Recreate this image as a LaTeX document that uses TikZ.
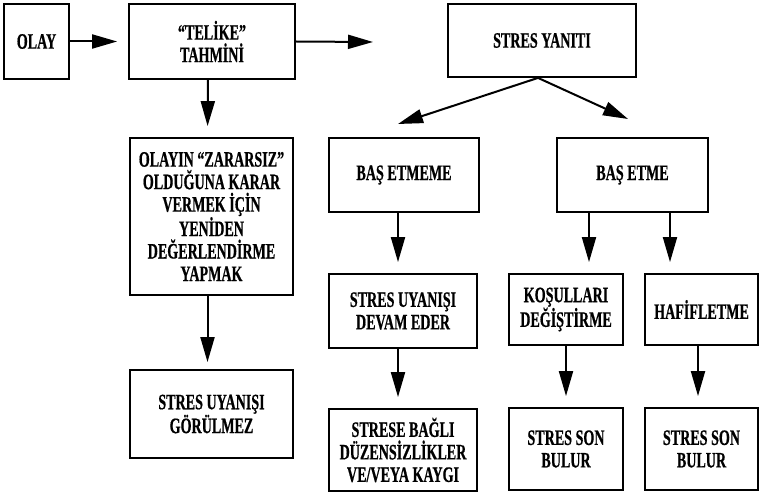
\documentclass[tikz,border=0pt]{standalone}
\usepackage{fontspec}
\setmainfont{Liberation Serif}[FakeStretch=0.64, BoldFeatures={FakeBold=0.6}]
\usetikzlibrary{arrows.meta, calc}

\begin{document}
\begin{tikzpicture}[x=1pt, y=-1pt, line width=2pt,
        >={Triangle[length=25pt, width=14pt]},
        box/.style={draw, line width=1.8pt, align=center, inner sep=2pt,
            font=\bfseries\fontsize{22}{22.5}\selectfont},
        arr/.style={->, line width=2pt, shorten >=11pt}]
        \useasboundingbox (0,0) rectangle (760,494);

        % Top row
        \node[box, minimum width=65pt, minimum height=75pt] (olay) at (36.5,41.5) {OLAY};
        \node[box, minimum width=166pt, minimum height=75pt] (telike) at (212,41.5) {“TELİKE”\\TAHMİNİ};
        \node[box, minimum width=188pt, minimum height=73pt] (yanit) at (542,40.5) {STRES YANITI};

        % Left column
        \node[box, minimum width=163pt, minimum height=157pt] (yeniden) at (211.5,216.5)
            {OLAYIN “ZARARSIZ”\\OLDUĞUNA KARAR\\VERMEK İÇİN\\YENİDEN\\DEĞERLENDİRME\\YAPMAK};
        \node[box, minimum width=163pt, minimum height=88pt] (gorulmez) at (211.5,414) {STRES UYANIŞI\\GÖRÜLMEZ};

        % Coping
        \node[box, minimum width=150pt, minimum height=74pt] (basetmeme) at (404,175) {BAŞ ETMEME};
        \node[box, minimum width=151pt, minimum height=74pt] (basetme) at (632.5,175) {BAŞ ETME};

        % Third row
        \node[box, minimum width=148pt, minimum height=74pt] (devam) at (403,311) {STRES UYANIŞI\\DEVAM EDER};
        \node[box, minimum width=114pt, minimum height=71pt] (kosul) at (566,309.5) {KOŞULLARI\\DEĞİŞTİRME};
        \node[box, minimum width=113pt, minimum height=71pt] (hafif) at (701.5,309.5) {HAFİFLETME};

        % Bottom row
        \node[box, minimum width=148pt, minimum height=82pt] (strese) at (403,450) {STRESE BAĞLI\\DÜZENSİZLİKLER\\VE/VEYA KAYGI};
        \node[box, minimum width=114pt, minimum height=82pt] (sonA) at (566,449) {STRES SON\\BULUR};
        \node[box, minimum width=113pt, minimum height=82pt] (sonB) at (701.5,449) {STRES SON\\BULUR};

        % Free arrow ends
        \coordinate (yanitin) at (373,42);
        \coordinate (tipL) at (398,124);
        \coordinate (tipR) at (628,119);

        % Arrows
        \draw[arr] (olay) -- (telike);
        \draw[arr, shorten >=0pt] (telike.east) -- (yanitin);
        \draw[arr] ($(telike.south)+(-4,0)$) -- ($(yeniden.north)+(-4,0)$);
        \draw[arr, shorten >=7pt] ($(yeniden.south)+(-4,0)$) -- ($(gorulmez.north)+(-4,0)$);
        \draw[arr, shorten >=0pt] ($(yanit.south)+(-4,0)$) -- (tipL);
        \draw[arr, shorten >=0pt] ($(yanit.south)+(-4,0)$) -- (tipR);
        \draw[arr] ($(basetmeme.south)+(-6,0)$) -- ($(devam.north)+(-5,0)$);
        \draw[arr] ($(basetme.south)+(-43.5,0)$) -- ($(kosul.north)+(23,0)$);
        \draw[arr] ($(basetme.south)+(37.5,0)$) -- ($(hafif.north)+(-31.5,0)$);
        \draw[arr] ($(devam.south)+(-5,0)$) -- ($(strese.north)+(-5,0)$);
        \draw[arr] (kosul) -- (sonA);
        \draw[arr] ($(hafif.south)+(-3.5,0)$) -- ($(sonB.north)+(-3.5,0)$);

    \end{tikzpicture}
\end{document}
